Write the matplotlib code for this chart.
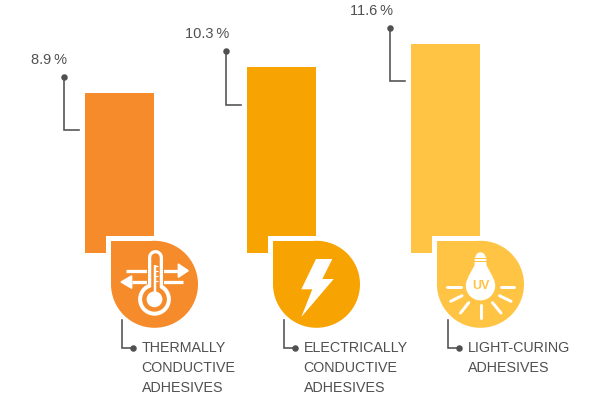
import matplotlib
matplotlib.use('Agg')
from matplotlib import pyplot as plt
from matplotlib.patches import Circle, Rectangle, Polygon

values = [8.9, 10.3, 11.6]
value_labels = ["8.9\u2009%", "10.3\u2009%", "11.6\u2009%"]
categories = ["THERMALLY\nCONDUCTIVE\nADHESIVES", "ELECTRICALLY\nCONDUCTIVE\nADHESIVES", "LIGHT-CURING\nADHESIVES"]
colors = ["#F58B2A", "#F7A403", "#FFC444"]

bar_left = [85, 247, 411]
drop_left = [111, 273, 437]
px_per_unit = 18.05
base = 253.3
notch_y = 235.8
drop_r = 43.5
text_col = "#505050"
line_col = "#505050"

plt.rcParams['font.family'] = ['Liberation Sans', 'DejaVu Sans']
fig = plt.figure(figsize=(6, 3.95), dpi=100)
ax = fig.add_axes([0, 0, 1, 1])
ax.set_xlim(0, 600)
ax.set_ylim(395, 0)
ax.axis("off")


def px(n):
    return n * 0.72


def line(xs, ys, w, col, cap="butt", z=5):
    ax.plot(xs, ys, color=col, lw=px(w), solid_capstyle=cap, solid_joinstyle="miter", zorder=z)


def thermometer(cx, cy, col):
    # arrows go first, the tube sits on top of them
    line([cx - 28.5, cx + 24], [cy - 13.6, cy - 13.6], 3.3, "white")
    ax.add_patch(Polygon([[cx + 23.8, cy - 20.3], [cx + 33.8, cy - 13.6], [cx + 23.8, cy - 7]], color="white", zorder=5))
    line([cx - 23, cx + 28.8], [cy - 2.3, cy - 2.3], 3.3, "white")
    ax.add_patch(Polygon([[cx - 22.8, cy - 8.5], [cx - 33.5, cy - 2.3], [cx - 22.8, cy + 4]], color="white", zorder=5))
    line([cx, cx], [cy - 27.5, cy + 8], 17, col, "round", 6)
    line([cx, cx], [cy - 27.5, cy + 8], 15, "white", "round", 6)
    ax.add_patch(Circle((cx, cy + 15), 15.7, color="white", zorder=6))
    line([cx, cx], [cy - 27.5, cy + 8], 8.5, col, "round", 7)
    ax.add_patch(Circle((cx, cy + 15), 11.7, color=col, zorder=7))
    line([cx, cx], [cy - 19, cy + 10], 2.5, "white", "butt", 8)
    ax.add_patch(Circle((cx, cy + 15), 7.2, color="white", zorder=8))
    for dy in [-18, -13, -8, -3]:
        line([cx, cx + 3.5], [cy + dy, cy + dy], 1.2, "white", "butt", 8)


def bolt(cx, cy, col):
    pts = [[-0.5, -25.3], [15.8, -25.3], [5.8, -5.3], [17.2, -5.3], [-15.2, 32.7], [-4.2, 5], [-15.2, 5]]
    ax.add_patch(Polygon([[cx + a, cy + b] for a, b in pts], color="white", lw=0, zorder=5))


def bulb(cx, cy, col):
    ax.add_patch(Circle((cx, cy + 1.4), 14.7, color="white", lw=0, zorder=5))
    pts = [[-12.5, -7], [-6, -19], [-5.8, -27], [5.8, -27], [6, -19], [12.5, -7]]
    ax.add_patch(Polygon([[cx + a, cy + b] for a, b in pts], color="white", lw=0, zorder=5))
    ax.add_patch(Circle((cx, cy - 27), 5, color="white", lw=0, zorder=5))
    # gaps between the screw threads of the cap
    line([cx - 8, cx + 8], [cy - 26.3, cy - 26.3], 1, col, "butt", 6)
    line([cx - 8, cx + 8], [cy - 23, cy - 23], 1, col, "butt", 6)
    ax.text(cx, cy + 1.6, "UV", color=col, fontsize=9, fontweight="bold", ha="center", va="center", zorder=6)
    rays = [(-33.8, 2.7, -19.8, 2.7), (20.2, 2.7, 33.8, 2.7), (-29.8, 17, -18.5, 11.4), (30.5, 17, 19, 11.4),
            (-20, 28.7, -11.8, 18.4), (20.5, 28.7, 12, 18.4), (0, 20.7, 0, 34)]
    for x0, y0, x1, y1 in rays:
        line([cx + x0, cx + x1], [cy + y0, cy + y1], 3, "white", "round")


icons = [thermometer, bolt, bulb]

for i in range(3):
    left = bar_left[i]
    top_h = values[i] * px_per_unit
    ax.bar(left, -(top_h - (base - notch_y)), bottom=notch_y, width=69.2, align="edge", color=colors[i], lw=0)
    ax.bar(left, -(base - notch_y), bottom=base, width=21.3, align="edge", color=colors[i], lw=0)

    # teardrop badge
    x0 = drop_left[i]
    cx = x0 + drop_r
    cy = 240.8 + drop_r
    ax.add_patch(Circle((cx, cy), drop_r, color=colors[i], lw=0, zorder=3))
    ax.add_patch(Rectangle((x0, 240.8), drop_r, drop_r, color=colors[i], lw=0, zorder=3))
    icons[i](cx, cy, colors[i])

    # top leader
    top = base - top_h
    lx = left - 21
    ax.plot([lx, lx, lx + 15], [top - 16, top + 37.5, top + 37.5], color=line_col, lw=px(1.6),
            solid_joinstyle="miter", zorder=4)
    ax.plot(lx, top - 16, "o", color=line_col, ms=px(6.5), mew=0, zorder=4)
    ax.text(lx + 3, top - 33, value_labels[i], color=text_col, fontsize=10.5, ha="right", va="center")

    # bottom leader
    bx = x0 + 11
    ax.plot([bx, bx, bx + 10], [320, 348, 348], color=line_col, lw=px(1.6), solid_joinstyle="miter", zorder=4)
    ax.plot(bx + 10.5, 348, "o", color=line_col, ms=px(6.5), mew=0, zorder=4)
    for k, row in enumerate(categories[i].split("\n")):
        ax.text(bx + 19.5, 348 + 20 * k, row, color=text_col, fontsize=10.3, ha="left", va="center")

fig.savefig("out.png", dpi=100)
